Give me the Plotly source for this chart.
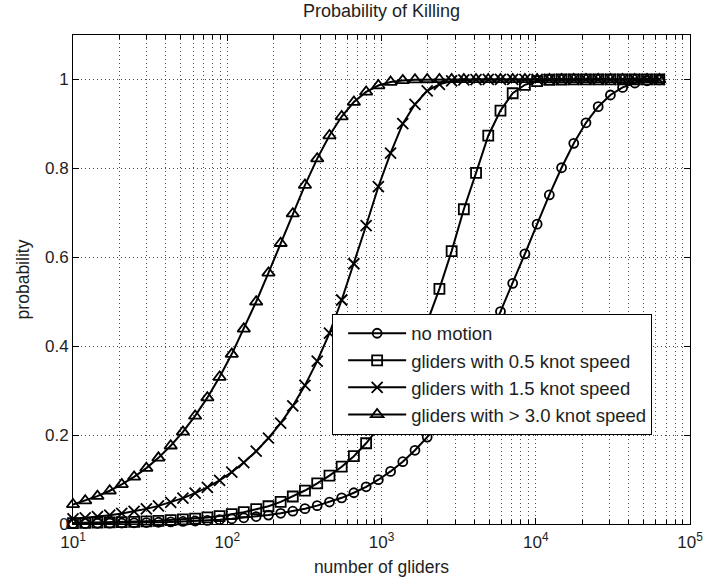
import plotly.graph_objects as go

# number of gliders (shared x positions of all series)
n_gliders = [10, 12, 14.4, 17.3, 20.7, 24.9, 29.9, 35.8, 43, 51.6, 61.9, 74.3, 89.2,
             107, 128, 154, 185, 222, 266, 319, 383, 460, 552, 662, 795, 954, 1145,
             1374, 1648, 1978, 2374, 2849, 3418, 4102, 4922, 5907, 7088, 8506, 10207,
             12248, 14697, 17637, 21164, 25397, 30476, 36572, 43886, 52663, 63196]

p_no_motion = [0.0011, 0.0013, 0.0016, 0.0019, 0.0023, 0.0027, 0.0033, 0.0039, 0.0047,
               0.0057, 0.0068, 0.0081, 0.0098, 0.0117, 0.0140, 0.0168, 0.0201, 0.0241,
               0.0288, 0.0345, 0.0413, 0.0494, 0.0589, 0.0703, 0.0837, 0.0996, 0.1183,
               0.1401, 0.1658, 0.1955, 0.2299, 0.2690, 0.3135, 0.3632, 0.4180, 0.4779,
               0.5414, 0.6078, 0.6745, 0.7402, 0.8014, 0.8563, 0.9025, 0.9388, 0.9650,
               0.9821, 0.9920, 0.9970, 0.9990]

p_05_knot = [0.0020, 0.0024, 0.0029, 0.0035, 0.0041, 0.0050, 0.0060, 0.0071, 0.0086,
             0.0103, 0.0123, 0.0147, 0.0177, 0.0222, 0.0266, 0.0333, 0.0399, 0.0497,
             0.0619, 0.0753, 0.0913, 0.1087, 0.1289, 0.1526, 0.1816, 0.2159, 0.2658,
             0.3192, 0.3797, 0.4531, 0.5288, 0.6139, 0.7080, 0.7897, 0.8735, 0.9299,
             0.9690, 0.9880, 0.9964, 0.9993, 0.9999, 1.0, 1.0, 1.0, 1.0,
             1.0, 1.0, 1.0, 1.0]

p_15_knot = [0.0115, 0.0138, 0.0166, 0.0198, 0.0238, 0.0284, 0.0340, 0.0407, 0.0487,
             0.0581, 0.0693, 0.0826, 0.0983, 0.1168, 0.1382, 0.1637, 0.1932, 0.2270,
             0.2656, 0.3119, 0.3663, 0.4295, 0.5039, 0.5854, 0.6714, 0.7587, 0.8343,
             0.9006, 0.9441, 0.9742, 0.9890, 0.9967, 0.9990, 0.9997, 1.0, 1.0,
             1.0, 1.0, 1.0, 1.0, 1.0, 1.0, 1.0, 1.0, 1.0,
             1.0, 1.0, 1.0, 1.0]

p_30_knot = [0.0440, 0.0526, 0.0627, 0.0748, 0.0891, 0.1060, 0.1257, 0.1488, 0.1760,
             0.2072, 0.2431, 0.2842, 0.3306, 0.3822, 0.4390, 0.5000, 0.5649, 0.6316,
             0.6981, 0.7625, 0.8219, 0.8738, 0.9166, 0.9492, 0.9721, 0.9863, 0.9942,
             0.9979, 0.9994, 0.9999, 1.0, 1.0, 1.0, 1.0, 1.0, 1.0,
             1.0, 1.0, 1.0, 1.0, 1.0, 1.0, 1.0, 1.0, 1.0,
             1.0, 1.0, 1.0, 1.0]

series_names = ["no motion", "gliders with 0.5 knot speed",
                "gliders with 1.5 knot speed", "gliders with > 3.0 knot speed"]
series_values = [p_no_motion, p_05_knot, p_15_knot, p_30_knot]
series_symbols = ["circle-open", "square-open", "x-thin-open", "triangle-up-open"]
series_sizes = [9, 10, 11, 11]

x_tick_vals = [10, 100, 1000, 10000, 100000]
x_tick_text = ["10<sup>1</sup>", "10<sup>2</sup>", "10<sup>3</sup>", "10<sup>4</sup>", "10<sup>5</sup>"]
x_minor_vals = [m * d for d in [10, 100, 1000, 10000] for m in range(2, 10)]
y_tick_vals = [0, 0.2, 0.4, 0.6, 0.8, 1.0]
y_tick_text = ["0", "0.2", "0.4", "0.6", "0.8", "1"]

FONT = "Liberation Sans, Arial, sans-serif"
TXT = "#1e1e1e"
GRID = "rgba(0,0,0,0.7)"
DASH = "1px,3px"

fig = go.Figure()
for name, vals, sym, sz in zip(series_names, series_values, series_symbols, series_sizes):
    fig.add_trace(go.Scatter(
        x=n_gliders, y=vals, name=name, mode="lines+markers",
        line=dict(color="black", width=2),
        marker=dict(symbol=sym, size=sz, color="black", line=dict(color="black", width=1.8)),
        cliponaxis=False,
    ))

fig.update_layout(
    width=703, height=584,
    margin=dict(l=73, r=13, t=35, b=60),
    paper_bgcolor="white", plot_bgcolor="white",
    font=dict(family=FONT, size=17, color=TXT),
    title=dict(text="Probability of Killing", x=0.5, xref="paper", xanchor="center",
               y=0.992, yanchor="top", font=dict(family=FONT, size=18, color=TXT)),
    showlegend=True,
    legend=dict(x=0.42, y=0.43, xanchor="left", yanchor="top",
                bgcolor="white", bordercolor="black", borderwidth=1,
                font=dict(family=FONT, size=18.5, color=TXT),
                itemwidth=58, indentation=10, tracegroupgap=0),
    xaxis=dict(
        type="log", range=[1, 5], automargin=False,
        tickvals=x_tick_vals, ticktext=x_tick_text,
        ticks="inside", ticklen=6, tickcolor="black",
        ticklabeloverflow="allow", ticklabelstandoff=3,
        showline=True, linecolor="black", linewidth=1, mirror="ticks",
        zeroline=False,
        showgrid=True, gridcolor=GRID, griddash=DASH, gridwidth=1,
        tickfont=dict(family=FONT, size=17, color=TXT),
        title=dict(text="number of gliders", font=dict(family=FONT, size=17.5, color=TXT), standoff=9),
        minor=dict(tickvals=x_minor_vals, ticks="inside", ticklen=4, tickcolor="black",
                   showgrid=True, gridcolor=GRID, griddash=DASH, gridwidth=1),
    ),
    yaxis=dict(
        range=[0, 1.1], automargin=False,
        tickvals=y_tick_vals, ticktext=y_tick_text,
        ticks="inside", ticklen=6, tickcolor="black",
        showline=True, linecolor="black", linewidth=1, mirror="ticks",
        zeroline=False,
        showgrid=True, gridcolor=GRID, griddash=DASH, gridwidth=1,
        tickfont=dict(family=FONT, size=17, color=TXT),
        title=dict(text="probability", font=dict(family=FONT, size=17.5, color=TXT), standoff=10),
    ),
)

fig.write_html("out.html")
